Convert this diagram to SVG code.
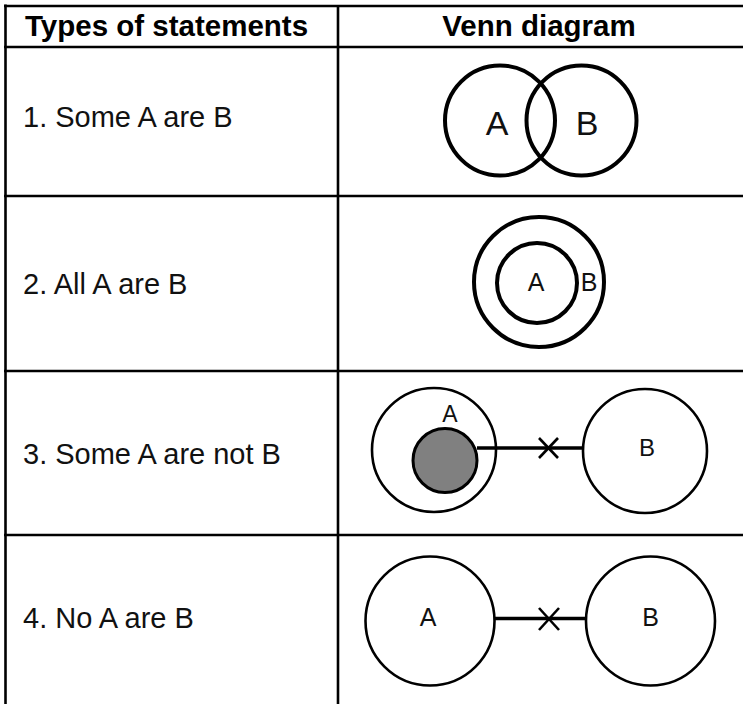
<svg xmlns="http://www.w3.org/2000/svg" width="743" height="704" viewBox="0 0 743 704">
<style>
.grid{stroke:#000;stroke-width:2.6;fill:none}
.hdr{font-family:"Liberation Sans",Arial,sans-serif;font-weight:bold;font-size:29.5px;fill:#000}
.row{font-family:"Liberation Sans",Arial,sans-serif;font-size:29px;fill:#111}
.lbl{font-family:"Liberation Sans",Arial,sans-serif;fill:#111;text-anchor:middle}
.thick{fill:none;stroke:#000;stroke-width:4}
.thin{fill:none;stroke:#000;stroke-width:2.6}
.conn{stroke:#000;stroke-width:3.5;fill:none}
.cross{stroke:#000;stroke-width:2.6;fill:none}
</style>
<rect width="743" height="704" fill="#fff"/>
<g id="table">
<line class="grid" x1="5.5" y1="4.5" x2="5.5" y2="704"/>
<line class="grid" x1="338" y1="5" x2="338" y2="704"/>
<line class="grid" x1="4" y1="6" x2="743" y2="6"/>
<line class="grid" x1="4" y1="47" x2="743" y2="47"/>
<line class="grid" x1="4" y1="196" x2="743" y2="196"/>
<line class="grid" x1="4" y1="371" x2="743" y2="371"/>
<line class="grid" x1="4" y1="535" x2="743" y2="535"/>
</g>
<g id="headers">
<text class="hdr" x="25" y="36">Types of statements</text>
<text class="hdr" x="539" y="36" text-anchor="middle">Venn diagram</text>
</g>
<g id="statements">
<text class="row" x="23" y="127">1. Some A are B</text>
<text class="row" x="23" y="294">2. All A are B</text>
<text class="row" x="23" y="464">3. Some A are not B</text>
<text class="row" x="23" y="628">4. No A are B</text>
</g>
<g id="row1-A">
<circle class="thick" cx="500" cy="120.5" r="55"/>
<text class="lbl" x="497" y="135" font-size="34">A</text>
</g>
<g id="row1-B">
<circle class="thick" cx="581.5" cy="120.5" r="55"/>
<text class="lbl" x="587" y="135" font-size="34">B</text>
</g>
<g id="row2-B">
<circle class="thick" cx="539" cy="282" r="65"/>
<text class="lbl" x="589" y="291" font-size="25">B</text>
</g>
<g id="row2-A">
<circle class="thick" cx="537" cy="283" r="40"/>
<text class="lbl" x="536" y="291" font-size="25">A</text>
</g>
<g id="connectors">
<line class="conn" x1="477" y1="448" x2="584" y2="448"/>
<line class="cross" x1="539" y1="438" x2="558" y2="458"/>
<line class="cross" x1="558" y1="438" x2="539" y2="458"/>
<line class="conn" x1="494" y1="618.5" x2="586" y2="618.5"/>
<line class="cross" x1="539" y1="608" x2="559" y2="630"/>
<line class="cross" x1="559" y1="608" x2="539" y2="630"/>
</g>
<g id="row3-A">
<circle class="thin" cx="434" cy="450" r="62"/>
<circle cx="445" cy="460.5" r="32" fill="#808080" stroke="#000" stroke-width="3"/>
<text class="lbl" x="450" y="422" font-size="23">A</text>
</g>
<g id="row3-B">
<circle class="thin" cx="645" cy="451" r="62"/>
<text class="lbl" x="647" y="456" font-size="24">B</text>
</g>
<g id="row4-A">
<circle class="thin" cx="430" cy="621" r="64.5"/>
<text class="lbl" x="428" y="626" font-size="25">A</text>
</g>
<g id="row4-B">
<circle class="thin" cx="650.5" cy="621" r="64.5"/>
<text class="lbl" x="650.5" y="626" font-size="25">B</text>
</g>
</svg>
